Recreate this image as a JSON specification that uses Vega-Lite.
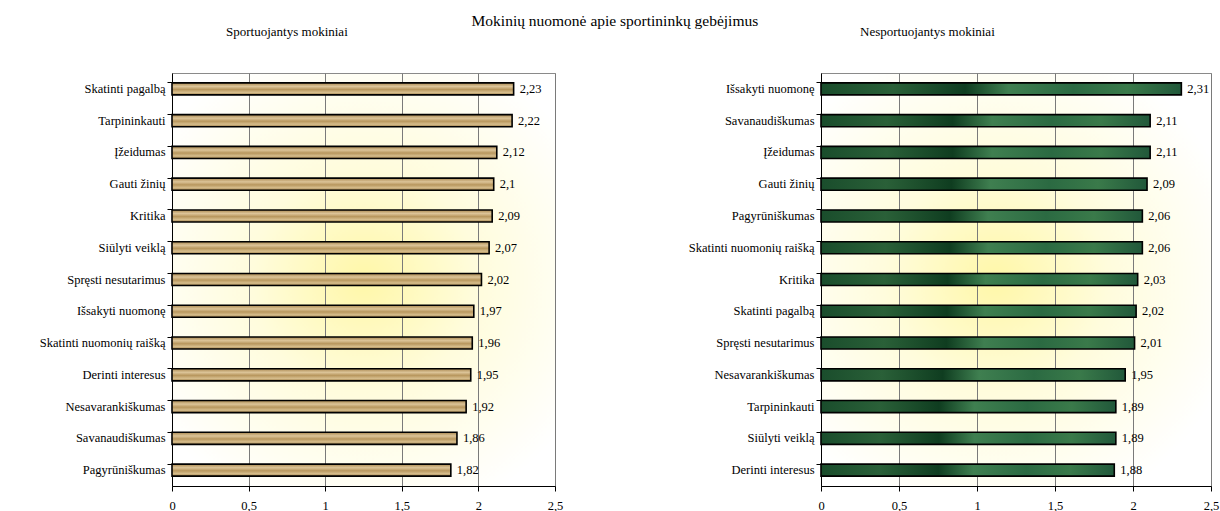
{
  "$schema": "https://vega.github.io/schema/vega-lite/v6.json",
  "padding": {"left": 10, "top": 14, "right": 5, "bottom": 2},
  "background": "white",
  "title": {"text": "Mokinių nuomonė apie sportininkų gebėjimus", "fontSize": 15.5, "font": "'Liberation Serif', 'Times New Roman', serif", "fontWeight": "normal", "anchor": "middle", "offset": -4, "color": "#000"},
  "config": {
    "locale": {"number": {"decimal": ",", "thousands": " ", "grouping": [3], "currency": ["", " €"]}},
    "font": "'Liberation Serif', 'Times New Roman', serif",
    "title": {"font": "'Liberation Serif', 'Times New Roman', serif", "fontWeight": "normal", "fontSize": 13, "color": "#000"},
    "view": {"stroke": "#8a8a8a", "strokeWidth": 1},
    "axis": {"labelFont": "'Liberation Serif', 'Times New Roman', serif", "labelFontSize": 12.5, "labelColor": "#000", "domainColor": "#000", "tickColor": "#000"},
    "text": {"font": "'Liberation Serif', 'Times New Roman', serif"}
  },
  "datasets": {
    "sport": [
      {"veikla": "Skatinti pagalbą", "reiksme": 2.23},
      {"veikla": "Tarpininkauti", "reiksme": 2.22},
      {"veikla": "Įžeidumas", "reiksme": 2.12},
      {"veikla": "Gauti žinių", "reiksme": 2.1},
      {"veikla": "Kritika", "reiksme": 2.09},
      {"veikla": "Siūlyti veiklą", "reiksme": 2.07},
      {"veikla": "Spręsti nesutarimus", "reiksme": 2.02},
      {"veikla": "Išsakyti nuomonę", "reiksme": 1.97},
      {"veikla": "Skatinti nuomonių raišką", "reiksme": 1.96},
      {"veikla": "Derinti interesus", "reiksme": 1.95},
      {"veikla": "Nesavarankiškumas", "reiksme": 1.92},
      {"veikla": "Savanaudiškumas", "reiksme": 1.86},
      {"veikla": "Pagyrūniškumas", "reiksme": 1.82}
    ],
    "nesport": [
      {"veikla": "Išsakyti nuomonę", "reiksme": 2.31},
      {"veikla": "Savanaudiškumas", "reiksme": 2.11},
      {"veikla": "Įžeidumas", "reiksme": 2.11},
      {"veikla": "Gauti žinių", "reiksme": 2.09},
      {"veikla": "Pagyrūniškumas", "reiksme": 2.06},
      {"veikla": "Skatinti nuomonių raišką", "reiksme": 2.06},
      {"veikla": "Kritika", "reiksme": 2.03},
      {"veikla": "Skatinti pagalbą", "reiksme": 2.02},
      {"veikla": "Spręsti nesutarimus", "reiksme": 2.01},
      {"veikla": "Nesavarankiškumas", "reiksme": 1.95},
      {"veikla": "Tarpininkauti", "reiksme": 1.89},
      {"veikla": "Siūlyti veiklą", "reiksme": 1.89},
      {"veikla": "Derinti interesus", "reiksme": 1.88}
    ]
  },
  "bounds": "flush",
  "spacing": 266,
  "hconcat": [
    {
      "width": 383,
      "height": 413,
      "title": {"text": "Sportuojantys mokiniai", "frame": "bounds", "anchor": "middle", "offset": 34},
      "view": {"fill": {"gradient": "radial", "x1": 0.5, "y1": 0.5, "r1": 0, "x2": 0.5, "y2": 0.5, "r2": 0.6, "stops": [{"offset": 0, "color": "#fff7a8"}, {"offset": 0.45, "color": "#fffcdc"}, {"offset": 1, "color": "#ffffff"}]}, "stroke": "#8a8a8a"},
      "data": {"name": "sport"},
      "encoding": {
        "y": {"field": "veikla", "type": "nominal", "sort": null, "title": null,
              "scale": {"paddingInner": 0.62, "paddingOuter": 0.31},
              "axis": {"bandPosition": 0, "tickSize": 5, "labelPadding": 2, "domainColor": "#000", "minExtent": 161, "maxExtent": 161, "grid": false}},
        "x": {"field": "reiksme", "type": "quantitative", "title": null,
              "scale": {"domain": [0, 2.5], "nice": false, "zero": true},
              "axis": {"values": [0, 0.5, 1, 1.5, 2, 2.5], "format": "~g", "grid": true, "gridColor": "#7a7a7a", "gridOpacity": 1, "tickSize": 5, "labelPadding": 8, "labelFlush": false}}
      },
      "layer": [
        {"mark": {"type": "bar", "stroke": "#000", "strokeWidth": 1.6, "fill": {"gradient": "linear", "x1": 0, "y1": 0, "x2": 0, "y2": 1, "stops": [{"offset": 0, "color": "#a98850"}, {"offset": 0.3, "color": "#dcc498"}, {"offset": 0.55, "color": "#b8975e"}, {"offset": 0.8, "color": "#d6bd8c"}, {"offset": 1, "color": "#9c7c46"}]}}},
        {"mark": {"type": "text", "align": "left", "baseline": "middle", "dx": 6, "fontSize": 12.5, "color": "#000"},
         "encoding": {"text": {"field": "reiksme", "type": "quantitative", "format": "~g"}}}
      ]
    },
    {
      "width": 390,
      "height": 413,
      "title": {"text": "Nesportuojantys mokiniai", "frame": "bounds", "anchor": "middle", "offset": 34},
      "view": {"fill": {"gradient": "radial", "x1": 0.45, "y1": 0.5, "r1": 0, "x2": 0.45, "y2": 0.5, "r2": 0.6, "stops": [{"offset": 0, "color": "#fff7a8"}, {"offset": 0.45, "color": "#fffcdc"}, {"offset": 1, "color": "#ffffff"}]}, "stroke": "#8a8a8a"},
      "data": {"name": "nesport"},
      "encoding": {
        "y": {"field": "veikla", "type": "nominal", "sort": null, "title": null,
              "scale": {"paddingInner": 0.62, "paddingOuter": 0.31},
              "axis": {"bandPosition": 0, "tickSize": 5, "labelPadding": 2, "domainColor": "#000", "minExtent": 185, "maxExtent": 185, "grid": false}},
        "x": {"field": "reiksme", "type": "quantitative", "title": null,
              "scale": {"domain": [0, 2.5], "nice": false, "zero": true},
              "axis": {"values": [0, 0.5, 1, 1.5, 2, 2.5], "format": "~g", "grid": true, "gridColor": "#7a7a7a", "gridOpacity": 1, "tickSize": 5, "labelPadding": 8, "labelFlush": false}}
      },
      "layer": [
        {"mark": {"type": "bar", "stroke": "#000", "strokeWidth": 1.6, "fill": {"gradient": "linear", "x1": 0, "y1": 0, "x2": 1, "y2": 0, "stops": [{"offset": 0, "color": "#1a4d2c"}, {"offset": 0.2, "color": "#2a6038"}, {"offset": 0.4, "color": "#0f3d20"}, {"offset": 0.52, "color": "#3f7f50"}, {"offset": 0.7, "color": "#2b6a42"}, {"offset": 0.85, "color": "#3a7a4a"}, {"offset": 1, "color": "#21583a"}]}}},
        {"mark": {"type": "text", "align": "left", "baseline": "middle", "dx": 6, "fontSize": 12.5, "color": "#000"},
         "encoding": {"text": {"field": "reiksme", "type": "quantitative", "format": "~g"}}}
      ]
    }
  ]
}
